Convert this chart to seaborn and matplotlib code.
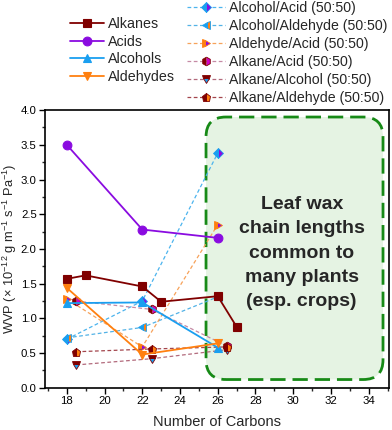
import matplotlib
matplotlib.use("Agg")
import matplotlib.pyplot as plt
import seaborn as sns
import numpy as np
from matplotlib.patches import FancyBboxPatch
from matplotlib.ticker import MultipleLocator

sns.set_style("ticks")
plt.rcParams['font.family'] = ['Liberation Sans', 'DejaVu Sans']
plt.rcParams['mathtext.default'] = 'regular'

# ---- data ----
alkanes_x = [18, 19, 22, 23, 26, 27]
alkanes_y = [1.57, 1.62, 1.46, 1.24, 1.32, 0.88]
acids_x = [18, 22, 26]
acids_y = [3.50, 2.28, 2.16]
alcohols_x = [18, 22, 26]
alcohols_y = [1.22, 1.23, 0.58]
aldehydes_x = [18, 22, 26]
aldehydes_y = [1.44, 0.48, 0.64]

alc_acid_x = [18, 22, 26]
alc_acid_y = [0.70, 1.25, 3.38]
alc_ald_x = [18, 22, 26]
alc_ald_y = [0.72, 0.87, 1.31]
ald_acid_x = [18, 22, 26]
ald_acid_y = [1.28, 0.59, 2.35]
alk_acid_x = [18.5, 22.5, 26.5]
alk_acid_y = [1.25, 1.13, 0.60]
alk_alc_x = [18.5, 22.5, 26.5]
alk_alc_y = [0.33, 0.42, 0.55]
alk_ald_x = [18.5, 22.5, 26.5]
alk_ald_y = [0.52, 0.56, 0.59]

box_text = "Leaf wax\nchain lengths\ncommon to\nmany plants\n(esp. crops)"

maroon = '#800000'
purple = '#8a0be0'
blue = '#1a9ff0'
orange = '#ff8010'

fig = plt.figure(figsize=(3.92, 4.30), dpi=100)
ax = fig.add_axes([0.115, 0.098, 0.877, 0.646])

# green rounded box
px_x = 0.877 * 392 / (35.07 - 16.85)
px_y = 0.646 * 430 / 4.0
box = FancyBboxPatch((25.38, 0.12), 34.76 - 25.38, 3.90 - 0.12,
                     boxstyle="round,pad=0,rounding_size=1.05",
                     mutation_aspect=px_x / px_y,
                     facecolor='#e5f3e3', edgecolor='#178a17', linewidth=2.0,
                     linestyle=(0, (5.5, 2.5)), zorder=1)
ax.add_patch(box)
ax.text(30.45, 1.94, box_text, ha='center', va='center', fontsize=14,
        fontweight='bold', linespacing=1.56, zorder=2)

solid = [
    ("Alkanes", alkanes_x, alkanes_y, maroon, 's', 5.2),
    ("Acids", acids_x, acids_y, purple, 'o', 6.3),
    ("Alcohols", alcohols_x, alcohols_y, blue, '^', 6.3),
    ("Aldehydes", aldehydes_x, aldehydes_y, orange, 'v', 6.3),
]
solid_handles = []
for lab, xs, ys, c, m, ms in solid:
    n0 = len(ax.lines)
    sns.lineplot(x=xs, y=ys, ax=ax, color=c, marker=m, markersize=ms,
                 markeredgecolor=c, markeredgewidth=0.8, linewidth=1.3,
                 sort=False, zorder=4)
    solid_handles.append(ax.lines[n0])

# name, x, y, line color, marker, face (fill), alt face, edge, fillstyle, size
mixed = [
    ("Alcohol/Acid (50:50)", alc_acid_x, alc_acid_y, '#4cb4ee', 'D', purple, blue, blue, 'right', 4.8),
    ("Alcohol/Aldehyde (50:50)", alc_ald_x, alc_ald_y, '#52b2e6', '<', orange, blue, blue, 'right', 6.3),
    ("Aldehyde/Acid (50:50)", ald_acid_x, ald_acid_y, '#f7a25a', '>', purple, orange, orange, 'right', 6.3),
    ("Alkane/Acid (50:50)", alk_acid_x, alk_acid_y, '#c58aa5', 'h', '#d000c8', maroon, maroon, 'right', 6.3),
    ("Alkane/Alcohol (50:50)", alk_alc_x, alk_alc_y, '#b26a7c', 'v', blue, maroon, maroon, 'bottom', 6.3),
    ("Alkane/Aldehyde (50:50)", alk_ald_x, alk_ald_y, '#a3454c', 'p', orange, maroon, maroon, 'right', 6.3),
]
mixed_handles = []
for lab, xs, ys, lc, m, fc, fca, ec, fs, ms in mixed:
    n0 = len(ax.lines)
    sns.lineplot(x=xs, y=ys, ax=ax, color=lc, marker=m, markersize=ms,
                 markerfacecolor=fc, markerfacecoloralt=fca, fillstyle=fs,
                 markeredgecolor=ec, markeredgewidth=0.6, linewidth=0.9,
                 linestyle=(0, (3, 2)), sort=False, zorder=3)
    mixed_handles.append(ax.lines[n0])

ax.set_xlim(16.85, 35.07)
ax.set_ylim(0, 4.0)
ax.xaxis.set_major_locator(MultipleLocator(2))
ax.xaxis.set_minor_locator(MultipleLocator(1))
ax.yaxis.set_major_locator(MultipleLocator(0.5))
ax.yaxis.set_minor_locator(MultipleLocator(0.25))
ax.yaxis.set_major_formatter(matplotlib.ticker.FormatStrFormatter('%.1f'))
ax.tick_params(axis='both', which='major', direction='out', length=4, width=1,
               labelsize=8.2, colors='black', pad=2)
ax.tick_params(axis='both', which='minor', direction='out', length=2.2, width=1)
for sp in ax.spines.values():
    sp.set_visible(True)
    sp.set_linewidth(1.2)
    sp.set_color('black')

ax.set_xlabel("Number of Carbons", fontsize=10.5, labelpad=6)
ax.set_ylabel(r"WVP ($\times$ 10$^{-12}$ g m$^{-1}$ s$^{-1}$ Pa$^{-1}$)",
              fontsize=9.3)
ax.yaxis.set_label_coords(-0.077, 0.5)

fig.legend(solid_handles, [s[0] for s in solid], loc='upper left',
           bbox_to_anchor=(0.178, 0.960), frameon=False, fontsize=10.3,
           handlelength=2.4, handletextpad=0.3, labelspacing=0.25,
           borderpad=0, borderaxespad=0)
fig.legend(mixed_handles, [s[0] for s in mixed], loc='upper left',
           bbox_to_anchor=(0.476, 0.998), frameon=False, fontsize=10.2,
           handlelength=2.7, handletextpad=0.3, labelspacing=0.29,
           borderpad=0, borderaxespad=0)

fig.savefig("out.png", dpi=100)
